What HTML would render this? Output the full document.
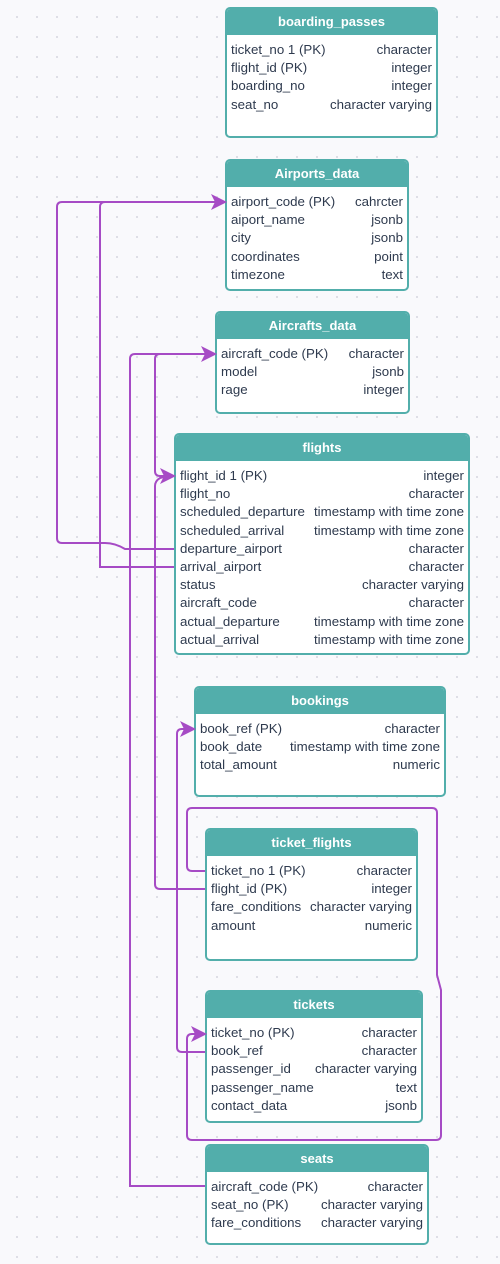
<!DOCTYPE html>
<html><head><style>
body{margin:0;width:500px;height:1264px;background:#f9f9fc;background-image:radial-gradient(#dcdce4 1px,transparent 1.2px);background-size:20px 20px;background-position:7px 7px;font-family:"Liberation Sans",sans-serif;position:relative;overflow:hidden}
.t{position:absolute;background:#fff;border:2px solid #52aeab;border-radius:5px;box-sizing:border-box;overflow:hidden}
.h{background:#52aeab;color:#fff;font-weight:bold;font-size:13px;text-align:center;height:26px;line-height:26px}
.r{display:flex;justify-content:space-between;font-size:13.3px;color:#2e3a4e;height:18.2px;line-height:18.2px;padding:0 4px;white-space:nowrap}
.b{padding-top:6px}
svg{position:absolute;left:0;top:0}
</style></head><body>
<div class="t" style="left:225px;top:7px;width:213px;height:131px"><div class="h">boarding_passes</div><div class="b">
<div class="r"><span>ticket_no 1 (PK)</span><span>character</span></div>
<div class="r"><span>flight_id (PK)</span><span>integer</span></div>
<div class="r"><span>boarding_no</span><span>integer</span></div>
<div class="r"><span>seat_no</span><span>character varying</span></div></div></div>

<div class="t" style="left:225px;top:159px;width:184px;height:132px"><div class="h">Airports_data</div><div class="b">
<div class="r"><span>airport_code (PK)</span><span>cahrcter</span></div>
<div class="r"><span>aiport_name</span><span>jsonb</span></div>
<div class="r"><span>city</span><span>jsonb</span></div>
<div class="r"><span>coordinates</span><span>point</span></div>
<div class="r"><span>timezone</span><span>text</span></div></div></div>

<div class="t" style="left:215px;top:311px;width:195px;height:103px"><div class="h">Aircrafts_data</div><div class="b">
<div class="r"><span>aircraft_code (PK)</span><span>character</span></div>
<div class="r"><span>model</span><span>jsonb</span></div>
<div class="r"><span>rage</span><span>integer</span></div></div></div>

<div class="t" style="left:174px;top:433px;width:296px;height:222px"><div class="h">flights</div><div class="b">
<div class="r"><span>flight_id 1 (PK)</span><span>integer</span></div>
<div class="r"><span>flight_no</span><span>character</span></div>
<div class="r"><span>scheduled_departure</span><span>timestamp with time zone</span></div>
<div class="r"><span>scheduled_arrival</span><span>timestamp with time zone</span></div>
<div class="r"><span>departure_airport</span><span>character</span></div>
<div class="r"><span>arrival_airport</span><span>character</span></div>
<div class="r"><span>status</span><span>character varying</span></div>
<div class="r"><span>aircraft_code</span><span>character</span></div>
<div class="r"><span>actual_departure</span><span>timestamp with time zone</span></div>
<div class="r"><span>actual_arrival</span><span>timestamp with time zone</span></div></div></div>

<div class="t" style="left:194px;top:686px;width:252px;height:111px"><div class="h">bookings</div><div class="b">
<div class="r"><span>book_ref (PK)</span><span>character</span></div>
<div class="r"><span>book_date</span><span>timestamp with time zone</span></div>
<div class="r"><span>total_amount</span><span>numeric</span></div></div></div>

<div class="t" style="left:205px;top:828px;width:213px;height:133px"><div class="h">ticket_flights</div><div class="b">
<div class="r"><span>ticket_no 1 (PK)</span><span>character</span></div>
<div class="r"><span>flight_id (PK)</span><span>integer</span></div>
<div class="r"><span>fare_conditions</span><span>character varying</span></div>
<div class="r"><span>amount</span><span>numeric</span></div></div></div>

<div class="t" style="left:205px;top:990px;width:218px;height:133px"><div class="h">tickets</div><div class="b">
<div class="r"><span>ticket_no (PK)</span><span>character</span></div>
<div class="r"><span>book_ref</span><span>character</span></div>
<div class="r"><span>passenger_id</span><span>character varying</span></div>
<div class="r"><span>passenger_name</span><span>text</span></div>
<div class="r"><span>contact_data</span><span>jsonb</span></div></div></div>

<div class="t" style="left:205px;top:1144px;width:224px;height:101px"><div class="h">seats</div><div class="b">
<div class="r"><span>aircraft_code (PK)</span><span>character</span></div>
<div class="r"><span>seat_no (PK)</span><span>character varying</span></div>
<div class="r"><span>fare_conditions</span><span>character varying</span></div></div></div>

<svg width="500" height="1264" fill="none" stroke="#a64bc5" stroke-width="2">
<path d="M174 549 H125 Q115 543 105 543 H62 Q57 543 57 538 V207 Q57 202 62 202 H218"/>
<path d="M174 567 H100 V207 Q100 202 105 202 H218"/>
<path d="M205 1186 H130 V359 Q130 354 135 354 H208"/>
<path d="M167 476 H160 Q155 476 155 471 V359 Q155 354 160 354"/>
<path d="M205 889 H160 Q155 889 155 884 V486 Q155 481 160 478 L167 476"/>
<path d="M205 1052 H182 Q177 1052 177 1047 V734 Q177 729 182 729 H187"/>
<path d="M205 871 H192 Q187 871 187 866 V813 Q187 808 192 808 H432 Q437 808 437 813 V975 L441 990 V1135 Q441 1140 436 1140 H192 Q187 1140 187 1135 V1039 Q187 1034 192 1034 H198"/>
<g fill="#a64bc5" stroke="none">
<path d="M227 202 L211 194 L215 202 L211 210Z"/>
<path d="M217 354 L201 346 L205 354 L201 362Z"/>
<path d="M176 476 L160 468 L164 476 L160 484Z"/>
<path d="M196 729 L180 721 L184 729 L180 737Z"/>
<path d="M207 1034 L191 1026 L195 1034 L191 1042Z"/>
</g>
</svg>
</body></html>
